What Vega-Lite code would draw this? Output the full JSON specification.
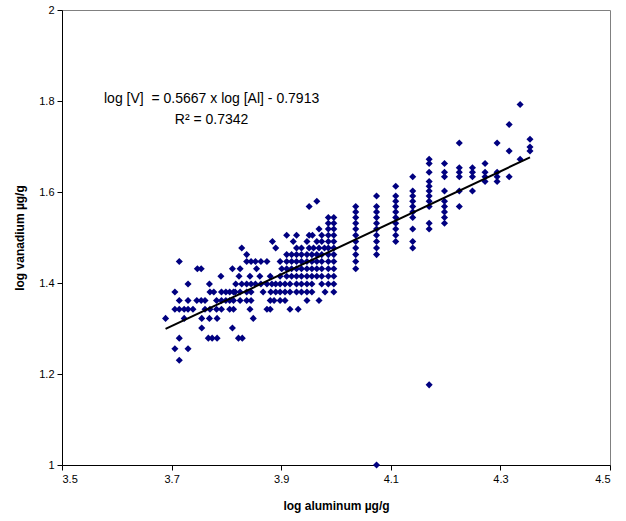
{
  "$schema": "https://vega.github.io/schema/vega-lite/v6.json",
  "width": 548,
  "height": 455,
  "autosize": {"type": "none"},
  "padding": {"left": 62, "top": 10, "right": 16, "bottom": 56},
  "background": "white",
  "config": {
    "view": {"stroke": "#808080", "strokeWidth": 1},
    "font": "Liberation Sans",
    "axis": {
      "grid": false,
      "domainColor": "black",
      "tickColor": "black",
      "labelColor": "black",
      "titleColor": "black",
      "labelFont": "Liberation Sans",
      "titleFont": "Liberation Sans",
      "labelFontSize": 11,
      "titleFontSize": 12,
      "titleFontWeight": "bold",
      "tickSize": 5,
      "labelPadding": 3
    }
  },
  "datasets": {
    "pts": [
      {"al":3.714,"v":1.4472},
      {"al":3.747,"v":1.4314},{"al":3.754,"v":1.4314},{"al":3.811,"v":1.4314},
      {"al":3.790,"v":1.4150},
      {"al":3.730,"v":1.3979},{"al":3.769,"v":1.3979},
      {"al":3.706,"v":1.3802},{"al":3.770,"v":1.3802},{"al":3.777,"v":1.3802},{"al":3.791,"v":1.3802},{"al":3.799,"v":1.3802},{"al":3.806,"v":1.3802},{"al":3.813,"v":1.3802},
      {"al":3.714,"v":1.3617},{"al":3.730,"v":1.3617},{"al":3.746,"v":1.3617},{"al":3.754,"v":1.3617},{"al":3.761,"v":1.3617},{"al":3.782,"v":1.3617},{"al":3.791,"v":1.3617},{"al":3.799,"v":1.3617},{"al":3.806,"v":1.3617},{"al":3.813,"v":1.3617},
      {"al":3.706,"v":1.3424},{"al":3.714,"v":1.3424},{"al":3.723,"v":1.3424},{"al":3.730,"v":1.3424},{"al":3.739,"v":1.3424},{"al":3.761,"v":1.3424},{"al":3.770,"v":1.3424},{"al":3.782,"v":1.3424},{"al":3.791,"v":1.3424},{"al":3.806,"v":1.3424},{"al":3.813,"v":1.3424},
      {"al":3.689,"v":1.3222},{"al":3.723,"v":1.3222},{"al":3.755,"v":1.3222},{"al":3.769,"v":1.3222},{"al":3.783,"v":1.3222},
      {"al":3.755,"v":1.3010},{"al":3.811,"v":1.3010},
      {"al":3.714,"v":1.2788},{"al":3.767,"v":1.2788},{"al":3.774,"v":1.2788},{"al":3.783,"v":1.2788},
      {"al":3.706,"v":1.2553},{"al":3.730,"v":1.2553},
      {"al":3.714,"v":1.2304},

      {"al":3.910,"v":1.5051},
      {"al":3.884,"v":1.4914},{"al":3.922,"v":1.4914},
      {"al":3.828,"v":1.4771},{"al":3.890,"v":1.4771},
      {"al":3.837,"v":1.4624},{"al":3.910,"v":1.4624},{"al":3.919,"v":1.4624},
      {"al":3.837,"v":1.4472},{"al":3.845,"v":1.4472},{"al":3.853,"v":1.4472},{"al":3.863,"v":1.4472},{"al":3.874,"v":1.4472},{"al":3.898,"v":1.4472},{"al":3.910,"v":1.4472},{"al":3.919,"v":1.4472},
      {"al":3.825,"v":1.4314},{"al":3.855,"v":1.4314},{"al":3.901,"v":1.4314},{"al":3.910,"v":1.4314},{"al":3.919,"v":1.4314},
      {"al":3.823,"v":1.4150},{"al":3.843,"v":1.4150},{"al":3.861,"v":1.4150},{"al":3.880,"v":1.4150},{"al":3.898,"v":1.4150},{"al":3.910,"v":1.4150},{"al":3.919,"v":1.4150},
      {"al":3.817,"v":1.3979},{"al":3.828,"v":1.3979},{"al":3.837,"v":1.3979},{"al":3.845,"v":1.3979},{"al":3.853,"v":1.3979},{"al":3.863,"v":1.3979},{"al":3.874,"v":1.3979},{"al":3.883,"v":1.3979},{"al":3.890,"v":1.3979},{"al":3.898,"v":1.3979},{"al":3.907,"v":1.3979},{"al":3.916,"v":1.3979},
      {"al":3.816,"v":1.3802},{"al":3.825,"v":1.3802},{"al":3.837,"v":1.3802},{"al":3.845,"v":1.3802},{"al":3.867,"v":1.3802},{"al":3.881,"v":1.3802},{"al":3.890,"v":1.3802},{"al":3.898,"v":1.3802},{"al":3.907,"v":1.3802},{"al":3.916,"v":1.3802},
      {"al":3.825,"v":1.3617},{"al":3.837,"v":1.3617},{"al":3.845,"v":1.3617},{"al":3.880,"v":1.3617},{"al":3.887,"v":1.3617},{"al":3.898,"v":1.3617},{"al":3.907,"v":1.3617},
      {"al":3.843,"v":1.3424},{"al":3.874,"v":1.3424},{"al":3.880,"v":1.3424},{"al":3.916,"v":1.3424},
      {"al":3.849,"v":1.3222},
      {"al":3.822,"v":1.2788},{"al":3.829,"v":1.2788},

      {"al":3.965,"v":1.5798},
      {"al":3.951,"v":1.5682},
      {"al":3.986,"v":1.5441},{"al":3.996,"v":1.5441},
      {"al":3.986,"v":1.5315},{"al":3.996,"v":1.5315},
      {"al":3.969,"v":1.5185},{"al":3.986,"v":1.5185},{"al":3.996,"v":1.5185},
      {"al":3.928,"v":1.5051},{"al":3.951,"v":1.5051},{"al":3.957,"v":1.5051},{"al":3.974,"v":1.5051},{"al":3.986,"v":1.5051},{"al":3.996,"v":1.5051},
      {"al":3.947,"v":1.4914},{"al":3.965,"v":1.4914},{"al":3.974,"v":1.4914},{"al":3.986,"v":1.4914},{"al":3.996,"v":1.4914},
      {"al":3.928,"v":1.4771},{"al":3.937,"v":1.4771},{"al":3.951,"v":1.4771},{"al":3.959,"v":1.4771},{"al":3.969,"v":1.4771},{"al":3.979,"v":1.4771},{"al":3.986,"v":1.4771},{"al":3.996,"v":1.4771},
      {"al":3.928,"v":1.4624},{"al":3.937,"v":1.4624},{"al":3.947,"v":1.4624},{"al":3.956,"v":1.4624},{"al":3.965,"v":1.4624},{"al":3.974,"v":1.4624},{"al":3.986,"v":1.4624},{"al":3.996,"v":1.4624},
      {"al":3.928,"v":1.4472},{"al":3.937,"v":1.4472},{"al":3.947,"v":1.4472},{"al":3.956,"v":1.4472},{"al":3.965,"v":1.4472},{"al":3.974,"v":1.4472},{"al":3.986,"v":1.4472},{"al":3.996,"v":1.4472},
      {"al":3.928,"v":1.4314},{"al":3.937,"v":1.4314},{"al":3.947,"v":1.4314},{"al":3.956,"v":1.4314},{"al":3.965,"v":1.4314},{"al":3.974,"v":1.4314},{"al":3.986,"v":1.4314},{"al":3.996,"v":1.4314},
      {"al":3.928,"v":1.4150},{"al":3.937,"v":1.4150},{"al":3.947,"v":1.4150},{"al":3.956,"v":1.4150},{"al":3.965,"v":1.4150},{"al":3.974,"v":1.4150},{"al":3.986,"v":1.4150},{"al":3.996,"v":1.4150},
      {"al":3.928,"v":1.3979},{"al":3.937,"v":1.3979},{"al":3.947,"v":1.3979},{"al":3.956,"v":1.3979},{"al":3.974,"v":1.3979},{"al":3.986,"v":1.3979},{"al":3.996,"v":1.3979},
      {"al":3.928,"v":1.3802},{"al":3.937,"v":1.3802},{"al":3.947,"v":1.3802},{"al":3.956,"v":1.3802},{"al":3.980,"v":1.3802},{"al":3.996,"v":1.3802},
      {"al":3.947,"v":1.3617},{"al":3.969,"v":1.3617},
      {"al":3.931,"v":1.3424},

      {"al":4.036,"v":1.5682},{"al":4.036,"v":1.5563},{"al":4.036,"v":1.5441},{"al":4.036,"v":1.5315},{"al":4.036,"v":1.5185},{"al":4.036,"v":1.5051},{"al":4.036,"v":1.4914},{"al":4.036,"v":1.4771},{"al":4.036,"v":1.4624},{"al":4.036,"v":1.4472},{"al":4.036,"v":1.4314},
      {"al":4.074,"v":1.5911},{"al":4.074,"v":1.5682},{"al":4.074,"v":1.5563},{"al":4.074,"v":1.5441},{"al":4.074,"v":1.5315},{"al":4.074,"v":1.5185},{"al":4.074,"v":1.5051},{"al":4.074,"v":1.4914},{"al":4.074,"v":1.4771},{"al":4.074,"v":1.4624},
      {"al":4.109,"v":1.6128},{"al":4.109,"v":1.5911},{"al":4.109,"v":1.5798},{"al":4.109,"v":1.5682},{"al":4.109,"v":1.5563},{"al":4.109,"v":1.5441},{"al":4.109,"v":1.5315},{"al":4.109,"v":1.5185},{"al":4.109,"v":1.5051},{"al":4.109,"v":1.4914},
      {"al":4.140,"v":1.6335},{"al":4.140,"v":1.6021},{"al":4.140,"v":1.5911},{"al":4.140,"v":1.5798},{"al":4.140,"v":1.5682},{"al":4.140,"v":1.5563},{"al":4.140,"v":1.5441},{"al":4.140,"v":1.5185},{"al":4.140,"v":1.4914},{"al":4.140,"v":1.4771},
      {"al":4.170,"v":1.6721},{"al":4.170,"v":1.6628},{"al":4.170,"v":1.6435},{"al":4.170,"v":1.6232},{"al":4.170,"v":1.6128},{"al":4.170,"v":1.6021},{"al":4.170,"v":1.5911},{"al":4.170,"v":1.5798},{"al":4.170,"v":1.5682},{"al":4.170,"v":1.5315},{"al":4.170,"v":1.5185},
      {"al":4.198,"v":1.6628},{"al":4.198,"v":1.6435},{"al":4.198,"v":1.6335},{"al":4.198,"v":1.6021},{"al":4.198,"v":1.5798},{"al":4.198,"v":1.5682},{"al":4.198,"v":1.5563},{"al":4.198,"v":1.5441},{"al":4.198,"v":1.5315},
      {"al":4.225,"v":1.7076},{"al":4.225,"v":1.6532},{"al":4.225,"v":1.6435},{"al":4.225,"v":1.6335},{"al":4.225,"v":1.6021},{"al":4.225,"v":1.5682},
      {"al":4.249,"v":1.6532},{"al":4.249,"v":1.6435},{"al":4.249,"v":1.6335},{"al":4.249,"v":1.6021},
      {"al":4.272,"v":1.6628},{"al":4.272,"v":1.6435},{"al":4.272,"v":1.6335},{"al":4.272,"v":1.6232},
      {"al":4.294,"v":1.7076},{"al":4.294,"v":1.6435},{"al":4.294,"v":1.6335},{"al":4.294,"v":1.6232},
      {"al":4.316,"v":1.7482},{"al":4.316,"v":1.6902},{"al":4.316,"v":1.6335},
      {"al":4.336,"v":1.7924},{"al":4.336,"v":1.6721},
      {"al":4.354,"v":1.7160},{"al":4.354,"v":1.6990},{"al":4.354,"v":1.6902},
      {"al":4.074,"v":1.0},
      {"al":4.170,"v":1.1761}
    ],
    "fit": [
      {"al":3.689,"v":1.2993},
      {"al":4.354,"v":1.6761}
    ],
    "ann": [
      {"al":3.773,"v":1.804,"t":"log [V] \u00a0= 0.5667 x log [Al] - 0.7913"},
      {"al":3.773,"v":1.758,"t":"R² = 0.7342"}
    ]
  },
  "layer": [
    {
      "data": {"name": "pts"},
      "mark": {"type": "point", "shape": "diamond", "filled": true, "size": 50, "color": "#000080", "opacity": 1, "strokeWidth": 0},
      "encoding": {
        "x": {
          "field": "al", "type": "quantitative",
          "scale": {"domain": [3.5, 4.5], "nice": false, "zero": false},
          "axis": {"values": [3.5, 3.7, 3.9, 4.1, 4.3, 4.5], "format": ".1f", "title": "log aluminum µg/g", "titlePadding": 16}
        },
        "y": {
          "field": "v", "type": "quantitative",
          "scale": {"domain": [1, 2], "nice": false, "zero": false},
          "axis": {"values": [1, 1.2, 1.4, 1.6, 1.8, 2], "format": "~g", "title": "log vanadium µg/g", "titlePadding": 12}
        }
      }
    },
    {
      "data": {"name": "fit"},
      "mark": {"type": "line", "color": "black", "strokeWidth": 2},
      "encoding": {
        "x": {"field": "al", "type": "quantitative"},
        "y": {"field": "v", "type": "quantitative"}
      }
    },
    {
      "data": {"name": "ann"},
      "mark": {"type": "text", "font": "Liberation Sans", "fontSize": 14, "color": "black", "align": "center", "baseline": "middle"},
      "encoding": {
        "x": {"field": "al", "type": "quantitative"},
        "y": {"field": "v", "type": "quantitative"},
        "text": {"field": "t"}
      }
    }
  ]
}
